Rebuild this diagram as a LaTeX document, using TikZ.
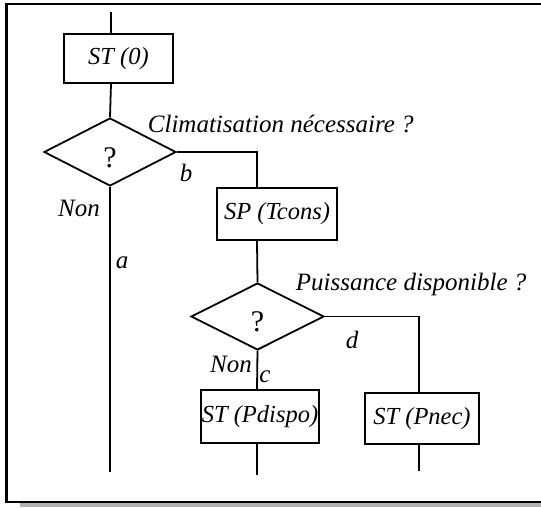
\documentclass[tikz,border=0pt]{standalone}
\usepackage{fontspec}
\setmainfont{Liberation Serif}
\usetikzlibrary{shapes.geometric}
\begin{document}
\begin{tikzpicture}[x=1pt,y=-1pt,
  line width=1.8pt,
  lbl/.style={font=\fontsize{25}{29}\selectfont\itshape, inner sep=0pt},
  boxtxt/.style={font=\fontsize{24.5}{28}\selectfont\itshape},
  procbox/.style={draw, rectangle, inner sep=0pt},
  decis/.style={draw, diamond, inner sep=0pt},
  qmark/.style={font=\fontsize{30}{34}\selectfont, inner sep=0pt}]
\useasboundingbox (0,0) rectangle (541,508);
% frame and shadow
\fill[gray!60] (20,503) rectangle (545,507);
\draw[line width=2.5pt] (545,4) -- (6.5,4) -- (6.5,502) -- (545,502);
% boxes
\node[procbox, minimum width=109pt, minimum height=49pt, boxtxt] (st0) at (118.5,58.5) {ST (0)};
\node[decis, minimum width=132pt, minimum height=68pt] (q1) at (110,152) {};
\node[qmark] (qm1) at (110,158) {?};
\node[procbox, minimum width=120pt, minimum height=52pt, boxtxt] (sp) at (277,214) {SP (Tcons)};
\node[decis, minimum width=133pt, minimum height=67pt] (q2) at (257.5,316.5) {};
\node[qmark] (qm2) at (257.5,322) {?};
\node[procbox, minimum width=118pt, minimum height=53pt, boxtxt] (pd) at (260,416.5) {ST (Pdispo)};
\node[procbox, minimum width=114pt, minimum height=51pt, boxtxt] (pn) at (422,418.5) {ST (Pnec)};
% coordinates
\coordinate (top) at (111,12);
\coordinate (c2) at (257,0);
\coordinate (c3) at (419,0);
\coordinate (aend) at (q1.south |- 0,472);
\coordinate (pdend) at (257,475);
\coordinate (pnend) at (419,471);
% connectors
\draw (top) -- (st0.north -| top);
\draw (st0.south -| top) -- (q1.north);
\draw (q1.south) -- (aend);
\draw (q1.east) -| (sp.north -| c2);
\draw (sp.south -| c2) -- (q2.north);
\draw (q2.south) -- (pd.north -| c2);
\draw (q2.east) -| (pn.north -| c3);
\draw (pd.south -| c2) -- (pdend);
\draw (pn.south -| c3) -- (pnend);
% labels
\node[lbl, anchor=west] (l1) at (147,124) {Climatisation nécessaire ?};
\node[lbl] (lb) at (186,173) {b};
\node[lbl] (ln1) at (79,208) {Non};
\node[lbl] (la) at (122,263) {a};
\node[lbl, anchor=west] (l2) at (295,284) {Puissance disponible ?};
\node[lbl] (ld) at (352,340) {d};
\node[lbl] (ln2) at (231,364) {Non};
\node[lbl] (lc) at (265,377) {c};
\end{tikzpicture}
\end{document}
